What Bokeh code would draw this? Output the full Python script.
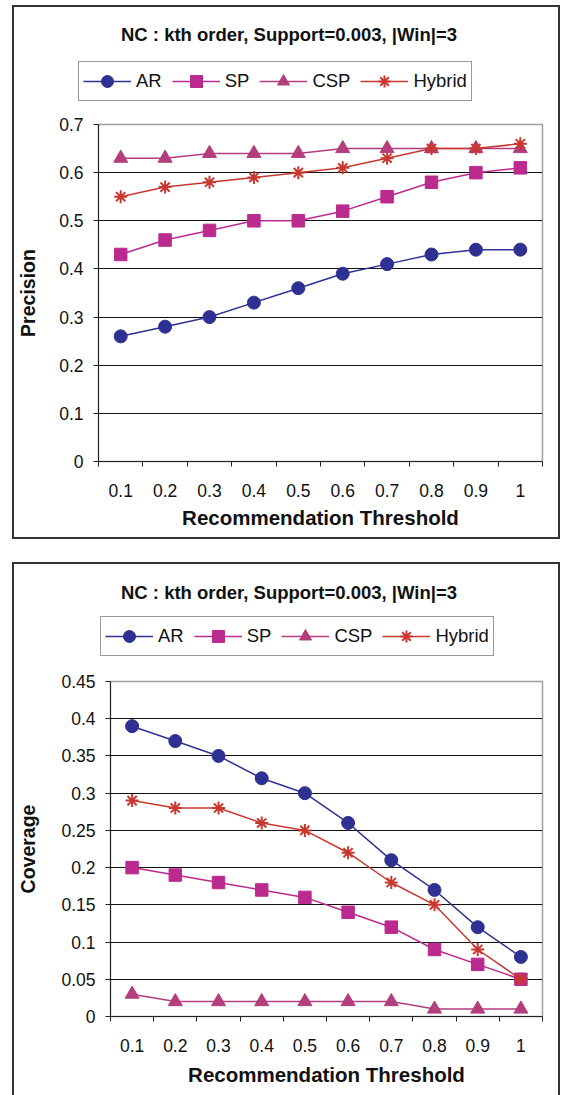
import numpy as np
from bokeh.plotting import figure
from bokeh.layouts import column
from bokeh.models import FixedTicker, CustomJSTickFormatter, Legend, LegendItem, Range1d, Label
from bokeh.embed import file_html
from bokeh.resources import INLINE

# ---------------- data ----------------
thresholds = [0.1, 0.2, 0.3, 0.4, 0.5, 0.6, 0.7, 0.8, 0.9, 1.0]
series_names = ["AR", "SP", "CSP", "Hybrid"]

precision_ar = [0.26, 0.28, 0.30, 0.33, 0.36, 0.39, 0.41, 0.43, 0.44, 0.44]
precision_sp = [0.43, 0.46, 0.48, 0.50, 0.50, 0.52, 0.55, 0.58, 0.60, 0.61]
precision_csp = [0.63, 0.63, 0.64, 0.64, 0.64, 0.65, 0.65, 0.65, 0.65, 0.65]
precision_hybrid = [0.55, 0.57, 0.58, 0.59, 0.60, 0.61, 0.63, 0.65, 0.65, 0.66]

coverage_ar = [0.39, 0.37, 0.35, 0.32, 0.30, 0.26, 0.21, 0.17, 0.12, 0.08]
coverage_sp = [0.20, 0.19, 0.18, 0.17, 0.16, 0.14, 0.12, 0.09, 0.07, 0.05]
coverage_csp = [0.03, 0.02, 0.02, 0.02, 0.02, 0.02, 0.02, 0.01, 0.01, 0.01]
coverage_hybrid = [0.29, 0.28, 0.28, 0.26, 0.25, 0.22, 0.18, 0.15, 0.09, 0.05]

precision_ticks = [0, 0.1, 0.2, 0.3, 0.4, 0.5, 0.6, 0.7]
coverage_ticks = [0, 0.05, 0.1, 0.15, 0.2, 0.25, 0.3, 0.35, 0.4, 0.45]

chart_title = "NC : kth order, Support=0.003, |Win|=3"
x_title = "Recommendation Threshold"

# ---------------- style ----------------
FONT = "Liberation Sans"
colors = {"AR": "#2E3192", "SP": "#BB2A8E", "CSP": "#B33D7D", "Hybrid": "#C9382F"}
markers = {"AR": "circle", "SP": "square", "CSP": "triangle", "Hybrid": "asterisk"}
msizes = {"AR": 13, "SP": 12.5, "CSP": 14, "Hybrid": 13}
INNER_W = 544
BORDER = "2px solid #333333"

fmt = CustomJSTickFormatter(code="return String(parseFloat(tick.toFixed(3)));")


def header(height, title_xy, legend_xy):
    h = figure(width=INNER_W, height=height, output_backend="svg", toolbar_location=None,
               x_range=Range1d(0, 1), y_range=Range1d(0, 1), min_border=0,
               x_axis_type=None, y_axis_type=None, frame_align=False,
               background_fill_color="white", border_fill_color="white")
    h.outline_line_color = None
    h.grid.visible = False
    items = []
    blank = np.array([np.nan])
    for name in series_names:
        # legend-only renderers (no visible data): they give the legend its glyph styles
        lr = h.line(x=blank, y=blank, line_color=colors[name], line_width=1.5)
        sr = h.scatter(x=blank, y=blank, marker=markers[name], size=msizes[name],
                       fill_color=colors[name], line_color=colors[name],
                       line_width=2 if name == "Hybrid" else 1)
        items.append(LegendItem(label=name, renderers=[lr, sr]))
    leg = Legend(items=items, orientation="horizontal", location=legend_xy,
                 border_line_color="#333333", border_line_width=1.5,
                 background_fill_color="white", background_fill_alpha=1,
                 padding=4, spacing=10, margin=0, label_standoff=5,
                 glyph_width=48, glyph_height=30,
                 label_text_font=FONT, label_text_font_size="18.5px", label_text_color="#111111")
    h.add_layout(leg, "center")
    h.add_layout(Label(x=title_xy[0], y=title_xy[1], x_units="screen", y_units="screen",
                       text=chart_title, text_font=FONT, text_font_style="bold",
                       text_font_size="18.5px", text_color="#111111",
                       text_align="center", text_baseline="middle"))
    return h


def body(ylabel, values, yticks, height, borders, ylab_standoff, xlab_standoff):
    mt, mr, mb, ml = borders
    p = figure(width=INNER_W, height=height, output_backend="svg", toolbar_location=None,
               x_range=Range1d(0.05, 1.05), y_range=Range1d(yticks[0], yticks[-1]),
               min_border_left=ml, min_border_right=mr, min_border_top=mt, min_border_bottom=mb,
               frame_align=False,
               background_fill_color="white", border_fill_color="white")
    p.outline_line_color = "#A0A0A0"
    p.outline_line_width = 1.5

    step = thresholds[1] - thresholds[0]
    bounds = [t - step / 2 for t in thresholds] + [thresholds[-1] + step / 2]
    xax = p.xaxis[0]
    xax.ticker = FixedTicker(ticks=thresholds, minor_ticks=bounds)
    xax.formatter = fmt
    xax.major_tick_line_color = None
    xax.major_tick_out = 0
    xax.major_tick_in = 0
    xax.minor_tick_out = 5
    xax.minor_tick_in = 0
    xax.minor_tick_line_color = "#222222"
    xax.axis_line_color = "#222222"
    xax.major_label_text_font = FONT
    xax.major_label_text_font_size = "17.5px"
    xax.major_label_text_color = "#111111"
    xax.major_label_standoff = 17
    xax.axis_label = x_title
    xax.axis_label_text_font = FONT
    xax.axis_label_text_font_style = "bold"
    xax.axis_label_text_font_size = "20.5px"
    xax.axis_label_text_color = "#111111"
    xax.axis_label_standoff = xlab_standoff

    yax = p.yaxis[0]
    yax.ticker = FixedTicker(ticks=yticks)
    yax.formatter = fmt
    yax.major_tick_out = 5
    yax.major_tick_in = 0
    yax.minor_tick_line_color = None
    yax.major_tick_line_color = "#222222"
    yax.axis_line_color = "#222222"
    yax.major_label_text_font = FONT
    yax.major_label_text_font_size = "17.5px"
    yax.major_label_text_color = "#111111"
    yax.major_label_standoff = 10
    yax.axis_label = ylabel
    yax.axis_label_text_font = FONT
    yax.axis_label_text_font_style = "bold"
    yax.axis_label_text_font_size = "19.5px"
    yax.axis_label_text_color = "#111111"
    yax.axis_label_standoff = ylab_standoff

    p.xgrid.visible = False
    p.ygrid.ticker = FixedTicker(ticks=yticks[1:-1])
    p.ygrid.grid_line_color = "#111111"
    p.ygrid.grid_line_width = 1

    for name, vals in zip(series_names, values):
        p.line(thresholds, vals, line_color=colors[name], line_width=1.5)
        p.scatter(thresholds, vals, marker=markers[name], size=msizes[name],
                  fill_color=colors[name], line_color=colors[name],
                  line_width=2 if name == "Hybrid" else 1)
    return p


h1 = header(103, (274.5, 76), (64, 9))
b1 = body("Precision", [precision_ar, precision_sp, precision_csp, precision_hybrid],
          precision_ticks, 427, (14, 16, 76, 84), 17, 6)
chart1 = column(h1, b1, width=548, height=534, spacing=0,
                styles={"border": BORDER, "box-sizing": "border-box"})
chart1.margin = (5, 0, 0, 12)

h2 = header(103, (274.5, 75), (86, 11))
b2 = body("Coverage", [coverage_ar, coverage_sp, coverage_csp, coverage_hybrid],
          coverage_ticks, 428, (14, 16, 79, 96), 19, 8)
chart2 = column(h2, b2, width=548, height=533, spacing=0,
                styles={"border-top": BORDER, "border-left": BORDER, "border-right": BORDER,
                        "box-sizing": "border-box"})
chart2.margin = (23, 0, 0, 12)

layout = column(chart1, chart2, spacing=0)
open("out.html", "w").write(file_html(layout, INLINE))
